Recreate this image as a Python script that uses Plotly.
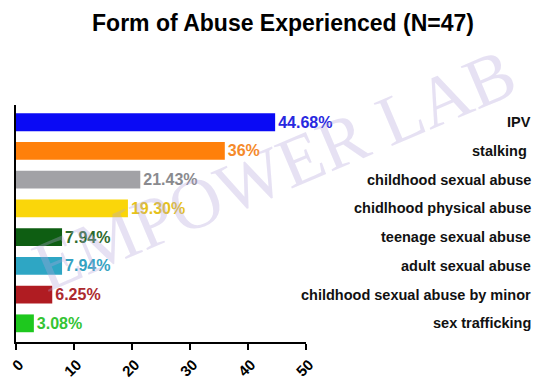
import plotly.graph_objects as go

categories = ["IPV", "stalking ", "childhood sexual abuse", "chidlhood physical abuse",
              "teenage sexual abuse", "adult sexual abuse",
              "childhood sexual abuse by minor", "sex trafficking"]
values = [44.68, 36, 21.43, 19.30, 7.94, 7.94, 6.25, 3.08]
value_labels = ["44.68%", "36%", "21.43%", "19.30%", "7.94%", "7.94%", "6.25%", "3.08%"]
bar_colors = ["#0a0af5", "#ff800a", "#a2a2a6", "#fad60a", "#0e5e12", "#2ea6c4", "#b01c22", "#1ec81e"]
label_colors = ["#2828e0", "#f58a2a", "#8a8a8e", "#e6c21a", "#2c6a2c", "#35a2c2", "#ac2a2e", "#34c434"]
x_ticks = [0, 10, 20, 30, 40, 50]

OFF = 8  # page body margin
W, H = 557 - OFF, 385 - OFF
L = 16 - OFF
T = 105 - OFF
pw = 306 - 16
ph = 342 - 105
R = W - L - pw
B = H - T - ph

def px_x(px):  # page pixel -> paper x
    return (px - OFF - L) / pw

def px_y(py):  # page pixel -> paper y
    return (H - (py - OFF) - B) / ph

fig = go.Figure()
fig.add_trace(go.Bar(
    x=values, y=categories, orientation="h",
    marker=dict(color=bar_colors, line=dict(width=0)),
    text=value_labels, textposition="outside", cliponaxis=False,
    textfont=dict(family="Liberation Sans Narrow, Arial Narrow, Liberation Sans", size=16,
                  color=label_colors, weight="bold"),
))

# watermark
fig.add_annotation(text="EMPOWER LAB", xref="paper", yref="paper",
                   x=px_x(274), y=px_y(170),
                   xanchor="center", yanchor="middle",
                   showarrow=False, textangle=-23,
                   font=dict(family="Liberation Serif, Times New Roman", size=71,
                             color="rgba(180,165,220,0.33)"))

for c in categories:
    fig.add_annotation(text=c, x=px_x(533), xref="paper", y=c, yref="y",
                       showarrow=False, xanchor="right", yanchor="middle", align="right",
                       font=dict(family="Liberation Sans, Arial", size=14.5, color="#111", weight="bold"))

fig.update_layout(
    width=W, height=H,
    margin=dict(l=L, r=R, t=T, b=B),
    paper_bgcolor="white", plot_bgcolor="white",
    showlegend=False, bargap=0.38,
    title=dict(text="<b>Form of Abuse Experienced (N=47)</b>",
               x=(283 - OFF) / W, xref="container",
               y=1 - (23 - OFF) / H, yref="container", xanchor="center", yanchor="middle",
               font=dict(family="Liberation Sans, Arial", size=23, color="black")),
    xaxis=dict(range=[0, 50], tickvals=x_ticks, ticktext=[str(t) for t in x_ticks],
               tickangle=-45, showgrid=False, zeroline=False, automargin=False,
               ticklabeloverflow="allow", ticklabelshift=3,
               showline=True, linecolor="black", linewidth=2,
               ticks="outside", ticklen=6, tickwidth=2, tickcolor="black",
               tickfont=dict(family="Liberation Sans, Arial", size=15, color="black", weight="bold")),
    yaxis=dict(categoryorder="array", categoryarray=categories,
               autorange=False, range=[7.65, -0.6], automargin=False,
               showticklabels=False, showgrid=False, zeroline=False,
               showline=True, linecolor="black", linewidth=2, ticks=""),
)

fig.write_html("out.html")
